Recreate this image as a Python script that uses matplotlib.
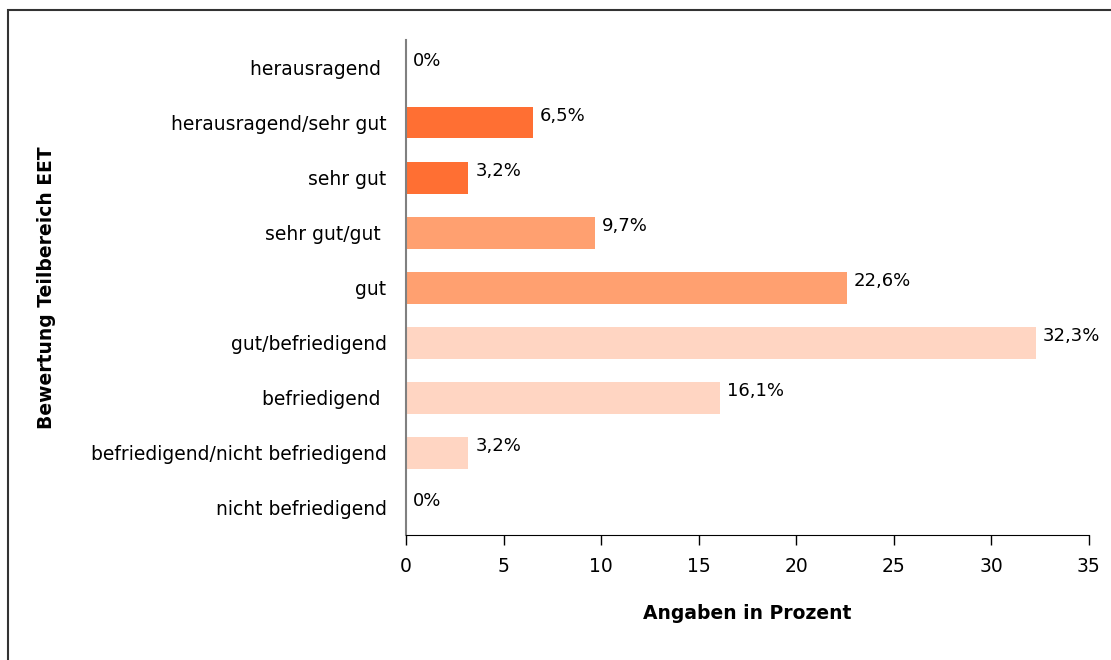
import matplotlib.pyplot as plt
from matplotlib.patches import Rectangle

categories = ["herausragend ", "herausragend/sehr gut", "sehr gut", "sehr gut/gut ", "gut",
              "gut/befriedigend", "befriedigend ", "befriedigend/nicht befriedigend",
              "nicht befriedigend"]
values = [0, 6.5, 3.2, 9.7, 22.6, 32.3, 16.1, 3.2, 0]
value_labels = ["0%", "6,5%", "3,2%", "9,7%", "22,6%", "32,3%", "16,1%", "3,2%", "0%"]
bar_colors = ["#FF6F33", "#FF6F33", "#FF6F33", "#FFA070", "#FFA070",
              "#FFD5C2", "#FFD5C2", "#FFD5C2", "#FFD5C2"]
xticks = [0, 5, 10, 15, 20, 25, 30, 35]

plt.rcParams['font.family'] = ['DejaVu Sans']

fig = plt.figure(figsize=(11.11, 6.6), dpi=100)
ax = fig.add_axes([0.3654, 0.189, 0.6146, 0.7504])

ypos = list(range(len(categories)))
ax.barh(ypos, values, height=0.58, color=bar_colors)
for y, v, lab in zip(ypos, values, value_labels):
    ax.annotate(lab, (v, y), xytext=(5, 5), textcoords='offset points',
                ha='left', va='center', fontsize=13, color='black')

ax.set_ylim(len(categories) - 0.5, -0.5)
ax.set_xlim(0, 35)
ax.set_yticks(ypos)
ax.set_yticklabels(categories, fontsize=13.5)
ax.set_xticks(xticks)
ax.set_xticklabels([str(t) for t in xticks], fontsize=13.5)
ax.tick_params(axis='y', length=0, pad=14)
ax.tick_params(axis='x', length=7, direction='out', pad=9, width=1)

for s in ['top', 'right']:
    ax.spines[s].set_visible(False)
ax.spines['left'].set_color('#808080')
ax.spines['left'].set_linewidth(1.5)
ax.spines['bottom'].set_color('black')

ax.set_xlabel("Angaben in Prozent", fontsize=13.5, fontweight='bold', labelpad=20)
ax.set_ylabel("Bewertung Teilbereich EET", fontsize=13.5, fontweight='bold')
ax.yaxis.set_label_coords(-0.512, 0.5)

fig.patches.append(Rectangle((8 / 1111, -0.01), 1.1, 1 - 10 / 660 + 0.01,
                             transform=fig.transFigure, fill=False,
                             edgecolor='#333333', linewidth=1.5))

fig.savefig("out.png", dpi=100)
